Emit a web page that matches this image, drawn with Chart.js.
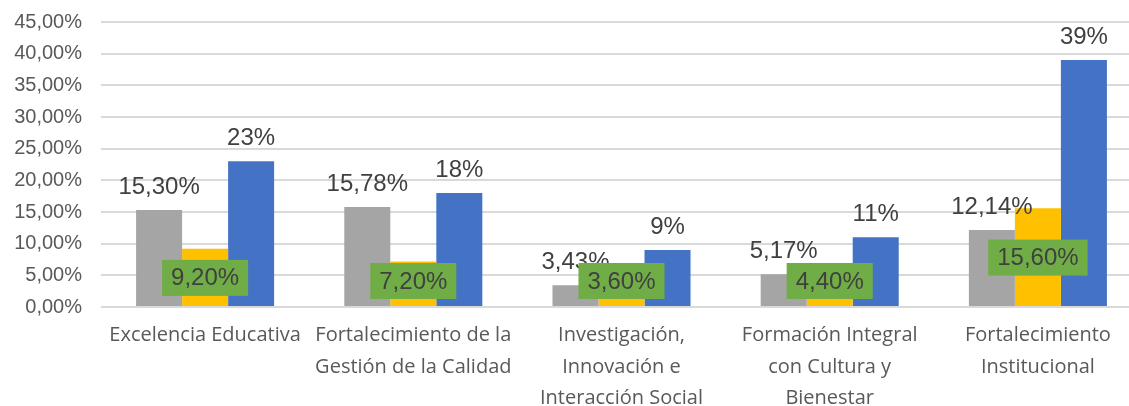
<!DOCTYPE html>
<html>
<head>
<meta charset="utf-8">
<script src="https://cdn.jsdelivr.net/npm/chart.js@4.4.1/dist/chart.umd.min.js"></script>
<style>
    html, body { margin: 0; padding: 0; background: #ffffff; overflow: hidden; }
    #wrap { width: 1142px; height: 406px; }
</style>
</head>
<body>
<div id="wrap"><canvas id="myChart" width="1142" height="406"></canvas></div>
<script>
// datos
const categorias = [
    "Excelencia Educativa",
    ["Fortalecimiento de la", "Gestión de la Calidad"],
    ["Investigación,", "Innovación e", "Interacción Social"],
    ["Formación Integral", "con Cultura y", "Bienestar"],
    ["Fortalecimiento", "Institucional"],
];
const serieGris = [15.30, 15.78, 3.43, 5.17, 12.14];
const serieAmarilla = [9.20, 7.20, 3.60, 4.40, 15.60];
const serieAzul = [23, 18, 9, 11, 39];
const ticksY = [0, 5, 10, 15, 20, 25, 30, 35, 40, 45];

const conDecimales = (v) => v.toFixed(2).replace(".", ",") + "%";
const entero = (v) => Math.round(v) + "%";
const formatos = [conDecimales, conDecimales, entero];

const etiquetasPlugin = {
    id: "etiquetas",
    afterDatasetsDraw(chart) {
        const ctx = chart.ctx;
        const base = chart.scales.y.getPixelForValue(0);
        ctx.save();
        ctx.font = '24px "Liberation Sans", Arial, sans-serif';
        ctx.textAlign = "center";

        // gris y azul: encima de la barra
        [0, 2].forEach((i) => {
            const meta = chart.getDatasetMeta(i);
            meta.data.forEach((bar, j) => {
                const valor = chart.data.datasets[i].data[j];
                ctx.fillStyle = "#404040";
                ctx.textBaseline = "alphabetic";
                ctx.fillText(formatos[i](valor), bar.x, bar.y - 16);
            });
        });

        // amarilla: caja verde centrada
        const meta = chart.getDatasetMeta(1);
        meta.data.forEach((bar, j) => {
            const texto = formatos[1](chart.data.datasets[1].data[j]);
            const w = ctx.measureText(texto).width + 18;
            const h = 36;
            const cy = Math.min((bar.y + base) / 2, base - 26);
            ctx.fillStyle = "#70AD47";
            ctx.fillRect(bar.x - w / 2, cy - h / 2, w, h);
            ctx.fillStyle = "#404040";
            ctx.textBaseline = "middle";
            ctx.fillText(texto, bar.x, cy + 1);
        });
        ctx.restore();
    },
};

const sinRelleno = (scale) => {
    scale.paddingTop = 0;
    scale.paddingBottom = 0;
    scale.paddingLeft = 0;
    scale.paddingRight = 0;
};

const ctx = document.getElementById("myChart").getContext("2d");
new Chart(ctx, {
    type: "bar",
    data: {
        labels: categorias,
        datasets: [
            { label: "Gris", data: serieGris, backgroundColor: "#A5A5A5" },
            { label: "Amarilla", data: serieAmarilla, backgroundColor: "#FFC000" },
            { label: "Azul", data: serieAzul, backgroundColor: "#4472C4" },
        ],
    },
    options: {
        responsive: false,
        animation: false,
        devicePixelRatio: 1,
        layout: { padding: { top: 22, left: 0, right: 0, bottom: 0 } },
        datasets: {
            bar: { categoryPercentage: 0.663, barPercentage: 1, borderWidth: 0 },
        },
        plugins: {
            legend: { display: false },
            tooltip: { enabled: false },
        },
        scales: {
            x: {
                grid: { display: false, drawTicks: false },
                border: { display: false },
                ticks: {
                    color: "#595959",
                    font: { family: '"Open Sans", sans-serif', size: 20, lineHeight: 1.575 },
                    padding: 13,
                    maxRotation: 0,
                    autoSkip: false,
                },
                afterFit: (scale) => { scale.height = 99; sinRelleno(scale); },
            },
            y: {
                min: 0,
                max: 45,
                afterBuildTicks: (scale) => { scale.ticks = ticksY.map((v) => ({ value: v })); },
                grid: { color: "#D9D9D9", lineWidth: 2, drawTicks: false },
                border: { display: false },
                ticks: {
                    color: "#595959",
                    font: { family: '"Liberation Sans", Arial, sans-serif', size: 20 },
                    padding: 19,
                    callback: (v) => conDecimales(v),
                },
                afterFit: (scale) => { scale.width = 101; sinRelleno(scale); },
            },
        },
    },
    plugins: [etiquetasPlugin],
});
</script>
</body>
</html>
